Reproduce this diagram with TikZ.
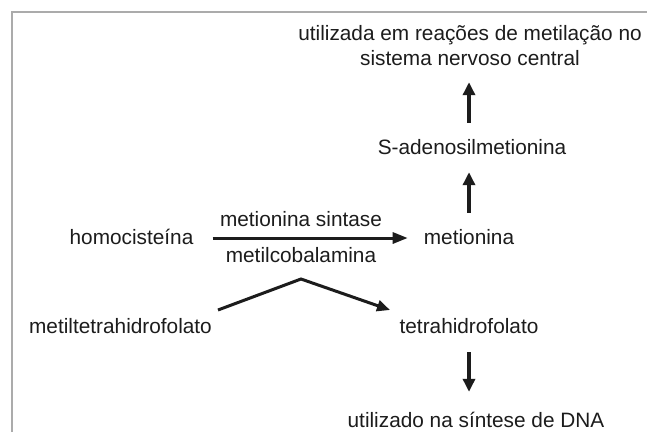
\documentclass[tikz,border=0pt]{standalone}
\usepackage{fontspec}
\setmainfont{Liberation Sans}
\usetikzlibrary{arrows.meta}
\definecolor{txt}{HTML}{1C1C1C}
\definecolor{frame}{HTML}{ABABAB}
\begin{document}
\begin{tikzpicture}[x=1pt,y=-1pt,
  lbl/.style={anchor=base,inner sep=0pt,text=txt,font=\fontsize{20.8}{25}\selectfont,text height=16pt,text depth=4pt},
  conn/.style={line width=3.3pt,draw=txt,-{Triangle[length=13pt,width=12pt]}}]
\useasboundingbox (0,0) rectangle (647,432);
\fill[white] (0,0) rectangle (647,432);
\draw[frame,line width=2pt] (12.3,432) -- (12.3,11.7) -- (647,11.7);
% nodes
\node[lbl] (t1) at (470,40) {utilizada em reações de metilação no};
\node[lbl] (t2) at (470,65) {sistema nervoso central};
\node[lbl] (sam) at (472,154) {S-adenosilmetionina};
\node[lbl] (hcy) at (131.5,244) {homocisteína};
\node[lbl] (met) at (469,244) {metionina};
\node[lbl] (ms) at (301,226) {metionina sintase};
\node[lbl] (mcb) at (301,262) {metilcobalamina};
\node[lbl] (mthf) at (120.5,333) {metiltetrahidrofolato};
\node[lbl] (thf) at (469,333) {tetrahidrofolato};
\node[lbl] (dna) at (476,427) {utilizado na síntese de DNA};
\coordinate (bs) at (218,310);
\coordinate (apex) at (301,279);
\coordinate (be) at (390,310);
% connectors
\draw[conn,shorten <=15pt,shorten >=13pt] (sam.north -| 469,0) -- (t2.south -| 469,0);
\draw[conn,shorten <=15pt,shorten >=14pt] (met.north) -- (sam.south -| met.north);
\draw[conn,line width=3pt,-{Triangle[length=15pt,width=11pt]},shorten <=19pt,shorten >=16pt] (hcy.east) -- (met.west);
\draw[conn,line width=3pt,-{Triangle[length=13pt,width=11pt]}] (bs) -- (apex) -- (be);
\draw[conn,shorten <=15pt,shorten >=19pt] (thf.south) -- (dna.north -| thf.south);
\end{tikzpicture}
\end{document}
